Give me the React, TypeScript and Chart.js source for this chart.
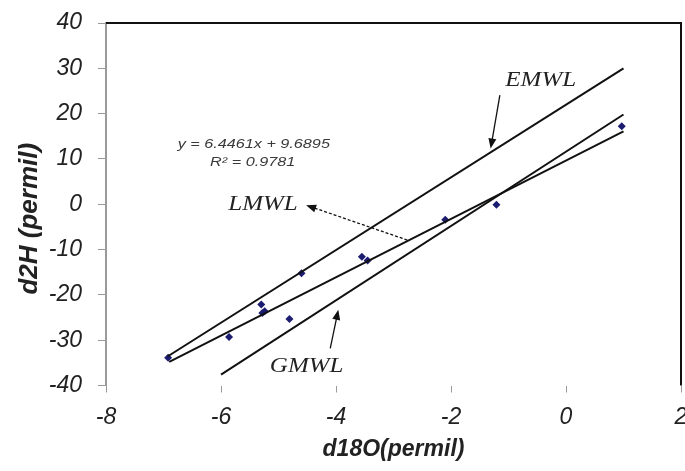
import React, { useEffect, useRef } from "react";
import { Chart, registerables } from "chart.js";

Chart.register(...registerables);

// Sample points (δ18O, δ2H)
const d18O = [-6.92, -5.86, -5.30, -5.28, -5.24, -4.81, -4.60, -3.55, -3.45, -2.10, -1.21, 0.97];
const d2H = [-33.9, -29.3, -22.1, -24.0, -23.6, -25.3, -15.2, -11.6, -12.4, -3.4, -0.1, 17.2];

// Reference lines (endpoints)
const emwlX = [-6.93, 1.0];
const emwlY = [-33.6, 30.0];
const lmwlX = [-6.9, 1.0];
const lmwlY = [-34.8, 16.1];
const gmwlX = [-6.0, 1.0];
const gmwlY = [-37.6, 19.8];

// Tick labels
const xTicks = [-8, -6, -4, -2, 0, 2];
const yTicks = [-40, -30, -20, -10, 0, 10, 20, 30, 40];

const equationLines = ["y = 6.4461x + 9.6895", "R\u00B2 = 0.9781"];

const SANS = "'Liberation Sans', Arial, sans-serif";
const SERIF = "'Liberation Serif', 'Times New Roman', serif";

function pts(xs: number[], ys: number[]) {
  return xs.map((x, i) => ({ x, y: ys[i] }));
}

function stretchedText(ctx: CanvasRenderingContext2D, text: string, px: number, py: number, font: string, sx: number, color: string) {
  ctx.save();
  ctx.translate(px, py);
  ctx.scale(sx, 1);
  ctx.font = font;
  ctx.fillStyle = color;
  ctx.textAlign = "center";
  ctx.textBaseline = "middle";
  ctx.fillText(text, 0, 0);
  ctx.restore();
}

function arrow(ctx: CanvasRenderingContext2D, x1: number, y1: number, x2: number, y2: number, dashed: boolean) {
  const ang = Math.atan2(y2 - y1, x2 - x1);
  const hl = 10, hw = 4;
  ctx.save();
  ctx.strokeStyle = "#111";
  ctx.fillStyle = "#111";
  ctx.lineWidth = 1.3;
  if (dashed) ctx.setLineDash([3, 2]);
  ctx.beginPath();
  ctx.moveTo(x1, y1);
  ctx.lineTo(x2 - Math.cos(ang) * hl * 0.8, y2 - Math.sin(ang) * hl * 0.8);
  ctx.stroke();
  ctx.setLineDash([]);
  ctx.beginPath();
  ctx.moveTo(x2, y2);
  ctx.lineTo(x2 - Math.cos(ang) * hl - Math.sin(ang) * hw, y2 - Math.sin(ang) * hl + Math.cos(ang) * hw);
  ctx.lineTo(x2 - Math.cos(ang) * hl + Math.sin(ang) * hw, y2 - Math.sin(ang) * hl - Math.cos(ang) * hw);
  ctx.closePath();
  ctx.fill();
  ctx.restore();
}

const annotationPlugin = {
  id: "annots",
  afterDatasetsDraw(chart: any) {
    const { ctx, chartArea, scales } = chart;
    const X = (v: number) => scales.x.getPixelForValue(v);
    const Y = (v: number) => scales.y.getPixelForValue(v);
    ctx.save();
    // top and right frame lines
    ctx.strokeStyle = "#111";
    ctx.lineWidth = 2;
    ctx.beginPath();
    ctx.moveTo(chartArea.left, chartArea.top);
    ctx.lineTo(chartArea.right, chartArea.top);
    ctx.lineTo(chartArea.right, chartArea.bottom);
    ctx.stroke();
    ctx.restore();

    // equation
    stretchedText(ctx, equationLines[0], X(-5.43), Y(13.1), `italic 12px ${SANS}`, 1.35, "#3a3a3a");
    stretchedText(ctx, equationLines[1], X(-5.45), Y(9.1), `italic 12px ${SANS}`, 1.35, "#3a3a3a");

    // line labels
    stretchedText(ctx, "EMWL", X(-0.44), Y(27.3), `italic 20px ${SERIF}`, 1.25, "#222");
    stretchedText(ctx, "LMWL", X(-5.27), Y(-0.2), `italic 20px ${SERIF}`, 1.25, "#222");
    stretchedText(ctx, "GMWL", X(-4.51), Y(-35.8), `italic 20px ${SERIF}`, 1.25, "#222");

    // arrows
    arrow(ctx, X(-1.15), Y(24.1), X(-1.31), Y(12.3), false);
    arrow(ctx, X(-2.76), Y(-7.9), X(-4.52), Y(-0.2), true);
    arrow(ctx, X(-4.10), Y(-31.8), X(-3.96), Y(-23.3), false);
  },
};

export default function App() {
  const ref = useRef<HTMLCanvasElement>(null);
  useEffect(() => {
    if (!ref.current) return;
    const lineDs = (label: string, xs: number[], ys: number[]) => ({
      type: "line" as const,
      label,
      data: pts(xs, ys),
      borderColor: "#111",
      borderWidth: 2,
      pointRadius: 0,
      showLine: true,
      fill: false,
      tension: 0,
    });
    const chart = new Chart(ref.current, {
      type: "scatter",
      data: {
        datasets: [
          lineDs("EMWL", emwlX, emwlY),
          lineDs("LMWL", lmwlX, lmwlY),
          lineDs("GMWL", gmwlX, gmwlY),
          {
            type: "scatter",
            label: "Samples",
            data: pts(d18O, d2H),
            pointStyle: "rectRot",
            pointRadius: 4,
            backgroundColor: "#1c1c70",
            borderColor: "#1c1c70",
            borderWidth: 0,
          },
        ],
      },
      options: {
        responsive: false,
        animation: false,
        devicePixelRatio: 1,
        layout: { padding: { left: 0, right: 2, top: 23, bottom: 0 } },
        plugins: { legend: { display: false }, tooltip: { enabled: false } },
        scales: {
          x: {
            type: "linear",
            min: -8,
            max: 2,
            afterBuildTicks: (s: any) => {
              s.ticks = xTicks.map((v) => ({ value: v }));
            },
            afterFit: (s: any) => {
              s.height = 85.5;
              s.paddingLeft = 0;
              s.paddingRight = 0;
              s.paddingTop = 0;
              s.paddingBottom = 0;
            },
            border: { display: false },
            grid: { drawOnChartArea: false, drawTicks: true, tickLength: 7, color: "#9a9a9a", lineWidth: 1 },
            ticks: {
              padding: 11,
              color: "#222",
              font: { family: SANS, size: 23, style: "italic" },
              callback: (v: any) => String(v),
              maxRotation: 0,
            },
            title: {
              display: true,
              text: "d18O(permil)",
              color: "#222",
              font: { family: SANS, size: 23, style: "italic", weight: "bold" },
              padding: { top: 0, bottom: 8 },
            },
          },
          y: {
            type: "linear",
            min: -40,
            max: 40,
            afterBuildTicks: (s: any) => {
              s.ticks = yTicks.map((v) => ({ value: v }));
            },
            afterFit: (s: any) => {
              s.width = 106;
              s.paddingTop = 0;
              s.paddingBottom = 0;
              s.paddingLeft = 0;
              s.paddingRight = 0;
            },
            border: { display: true, color: "#9a9a9a", width: 2 },
            grid: { drawOnChartArea: false, drawTicks: true, tickLength: 8, color: "#9a9a9a", lineWidth: 1 },
            ticks: {
              padding: 16,
              color: "#222",
              font: { family: SANS, size: 23, style: "italic" },
              callback: (v: any) => String(v),
            },
            title: {
              display: true,
              text: "d2H (permil)    ",
              color: "#222",
              font: { family: SANS, size: 26, style: "italic", weight: "bold" },
              padding: { top: 14, bottom: 0 },
            },
          },
        },
      },
      plugins: [annotationPlugin],
    } as any);
    return () => chart.destroy();
  }, []);
  return (
    <div style={{ position: "fixed", left: 0, top: 0, width: 685, height: 471, background: "#fff" }}>
      <canvas ref={ref} width={685} height={471} style={{ display: "block" }} />
    </div>
  );
}
